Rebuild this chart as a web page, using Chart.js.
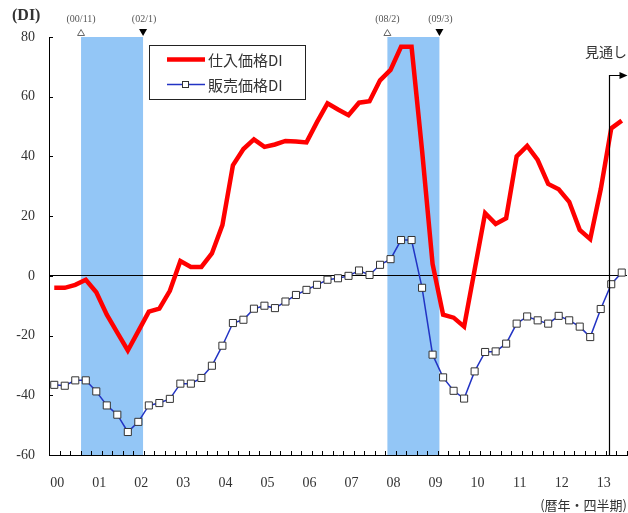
<!DOCTYPE html>
<html>
<head>
<meta charset="utf-8">
<script src="https://cdn.jsdelivr.net/npm/chart.js@4"></script>
<style>
  html, body { margin: 0; padding: 0; background: #fff; }
</style>
</head>
<body>
<canvas id="chart" width="628" height="513"></canvas>
<script>
// quarterly, 2000Q1 .. 2013Q3
const years = ['00', '01', '02', '03', '04', '05', '06', '07', '08', '09', '10', '11', '12', '13'];
const quarters = [];
years.forEach(y => ['Q1', 'Q2', 'Q3', 'Q4'].forEach(q => quarters.push(y + q)));
quarters.length = 55;

const purchaseDI = [
  -4, -4, -3, -1.3, -5.5, -13, -19, -25, -18.5, -12, -11, -5,
  5, 3, 3, 7.5, 17, 37, 42.5, 45.7, 43.2, 44, 45.2, 45,
  44.7, 51.5, 57.8, 55.7, 53.8, 58, 58.5, 65.5, 69, 76.7, 76.7, 42,
  4, -13, -14, -17, 2, 21, 17.4, 19.3, 40, 43.5, 38.8, 30.8,
  29, 24.8, 15.4, 12.3, 29, 49.4, 52
];
const salesDI = [
  -36.5, -36.8, -35, -35, -38.7, -43.4, -46.5, -52.3, -48.9, -43.4, -42.6, -41.2,
  -36.1, -36.1, -34.2, -30.1, -23.4, -15.8, -14.7, -11, -10, -10.8, -8.6, -6.4,
  -4.7, -3, -1.3, -0.8, 0, 1.8, 0.3, 3.7, 5.6, 12, 12, -4,
  -26.4, -34, -38.5, -41.1, -32, -25.5, -25.3, -22.7, -16, -13.6, -14.9, -16,
  -13.4, -14.9, -17, -20.5, -11.1, -2.8, 1.1
];

// recession periods (peak / trough) in category index units
const bands = [
  { from: 2.55, to: 8.45, start: '(00/11)', end: '(02/1)' },
  { from: 31.7, to: 36.65, start: '(08/2)', end: '(09/3)' }
];
const outlookAt = 52.8;

Chart.defaults.font.family = '"Liberation Serif", "DejaVu Serif", serif';
Chart.defaults.color = '#333';

const decor = {
  id: 'decor',
  beforeDraw(chart) {
    const { ctx, chartArea: a, scales: { x } } = chart;
    ctx.save();
    ctx.fillStyle = '#93c6f6';
    bands.forEach(b => {
      const x1 = x.getPixelForValue(b.from);
      const x2 = x.getPixelForValue(b.to);
      ctx.fillRect(x1, a.top, x2 - x1, a.bottom - a.top);
    });
    ctx.restore();
  },
  afterDraw(chart) {
    const { ctx, chartArea: a, scales: { x, y } } = chart;
    ctx.save();

    // inward tick marks
    ctx.strokeStyle = '#000';
    ctx.lineWidth = 1;
    ctx.beginPath();
    y.ticks.forEach(t => {
      const py = Math.round(y.getPixelForValue(t.value)) + 0.5;
      ctx.moveTo(a.left, py);
      ctx.lineTo(a.left + 4, py);
    });
    for (let i = 0; i <= quarters.length; i++) {
      const px = Math.round(x.getPixelForValue(i - 0.5)) + 0.5;
      ctx.moveTo(px, a.bottom);
      ctx.lineTo(px, a.bottom - 4);
    }
    ctx.stroke();

    // peak / trough markers
    ctx.font = '10px "Liberation Serif", serif';
    ctx.textAlign = 'center';
    ctx.textBaseline = 'middle';
    bands.forEach(b => {
      const x1 = x.getPixelForValue(b.from);
      const x2 = x.getPixelForValue(b.to);
      ctx.fillStyle = '#555';
      ctx.fillText(b.start, x1, 19);
      ctx.fillText(b.end, x2 + 1, 19);
      // open triangle (up)
      ctx.beginPath();
      ctx.moveTo(x1, 29.5);
      ctx.lineTo(x1 + 3.5, 35.5);
      ctx.lineTo(x1 - 3.5, 35.5);
      ctx.closePath();
      ctx.fillStyle = '#fff';
      ctx.fill();
      ctx.strokeStyle = '#666';
      ctx.stroke();
      // filled triangle (down)
      ctx.beginPath();
      ctx.moveTo(x2 - 4, 29);
      ctx.lineTo(x2 + 4, 29);
      ctx.lineTo(x2, 36);
      ctx.closePath();
      ctx.fillStyle = '#000';
      ctx.fill();
    });

    // (DI)
    ctx.fillStyle = '#333';
    ctx.font = 'bold 16px "Liberation Serif", serif';
    ctx.textAlign = 'left';
    ctx.fillText('(DI)', 12, 16);

    // outlook line + arrow
    const ox = Math.round(x.getPixelForValue(outlookAt)) + 0.5;
    ctx.strokeStyle = '#000';
    ctx.lineWidth = 1.2;
    ctx.beginPath();
    ctx.moveTo(ox, a.bottom);
    ctx.lineTo(ox, 75.5);
    ctx.lineTo(ox + 11, 75.5);
    ctx.stroke();
    ctx.beginPath();
    ctx.moveTo(ox + 18, 75.5);
    ctx.lineTo(ox + 10, 72);
    ctx.lineTo(ox + 10, 79);
    ctx.closePath();
    ctx.fillStyle = '#000';
    ctx.fill();
    ctx.fillStyle = '#333';
    ctx.font = '14px "Noto Sans CJK JP", sans-serif';
    ctx.fillText('見通し', 585, 52);

    // legend
    const lx = 149.5, ly = 45.5, lw = 156, lh = 54;
    ctx.fillStyle = '#fff';
    ctx.fillRect(lx, ly, lw, lh);
    ctx.strokeStyle = '#222';
    ctx.lineWidth = 1;
    ctx.strokeRect(lx, ly, lw, lh);
    const rows = [59.5, 84.5];
    chart.data.datasets.forEach((ds, i) => {
      const ry = rows[i];
      ctx.strokeStyle = ds.borderColor;
      ctx.lineWidth = ds.borderWidth;
      ctx.beginPath();
      ctx.moveTo(167, ry);
      ctx.lineTo(205, ry);
      ctx.stroke();
      if (ds.pointRadius > 0) {
        ctx.fillStyle = ds.pointBackgroundColor;
        ctx.strokeStyle = ds.pointBorderColor;
        ctx.lineWidth = 1;
        ctx.fillRect(182.5, ry - 3, 6, 6);
        ctx.strokeRect(182.5, ry - 3, 6, 6);
      }
      ctx.fillStyle = '#333';
      ctx.font = '15px "Noto Sans CJK JP", sans-serif';
      ctx.fillText(ds.label, 208, ry + 1);
    });

    ctx.restore();
  }
};

new Chart(document.getElementById('chart'), {
  type: 'line',
  data: {
    labels: quarters,
    datasets: [
      {
        label: '仕入価格DI',
        data: purchaseDI,
        borderColor: '#ff0000',
        borderWidth: 4.5,
        pointRadius: 0,
        tension: 0,
        order: 2
      },
      {
        label: '販売価格DI',
        data: salesDI,
        borderColor: '#2233c4',
        borderWidth: 1.5,
        pointStyle: 'rect',
        pointRadius: 5,
        pointBorderWidth: 1,
        pointBorderColor: '#333',
        pointBackgroundColor: '#fff',
        tension: 0,
        order: 1
      }
    ]
  },
  options: {
    responsive: false,
    animation: false,
    layout: { autoPadding: false, padding: { top: 37, right: 1, left: 0, bottom: 0 } },
    plugins: { legend: { display: false }, tooltip: { enabled: false } },
    scales: {
      x: {
        offset: true,
        grid: { display: false, drawTicks: true, tickLength: 17 },
        border: { display: true, color: '#000', width: 1 },
        ticks: {
          autoSkip: false,
          maxRotation: 0,
          padding: 3,
          labelOffset: 3,
          font: { size: 14 },
          color: '#333',
          callback: function (v, i) { return i % 4 === 0 ? this.getLabelForValue(v).slice(0, 2) : ''; }
        },
        title: {
          display: true,
          text: '(暦年・四半期)',
          align: 'end',
          color: '#333',
          font: { size: 13, family: '"Noto Sans CJK JP", sans-serif' },
          padding: { top: 0, bottom: 0 }
        },
        afterFit: s => { s.height = 58; }
      },
      y: {
        min: -60,
        max: 80,
        ticks: { stepSize: 20, padding: 14, font: { size: 14 }, color: '#333' },
        grid: {
          drawTicks: false,
          color: c => (c.tick && c.tick.value === 0 ? '#000' : 'rgba(0,0,0,0)'),
          lineWidth: 1
        },
        border: { display: true, color: '#000', width: 1 },
        afterFit: s => { s.width = 49; }
      }
    }
  },
  plugins: [decor]
});
</script>
</body>
</html>
